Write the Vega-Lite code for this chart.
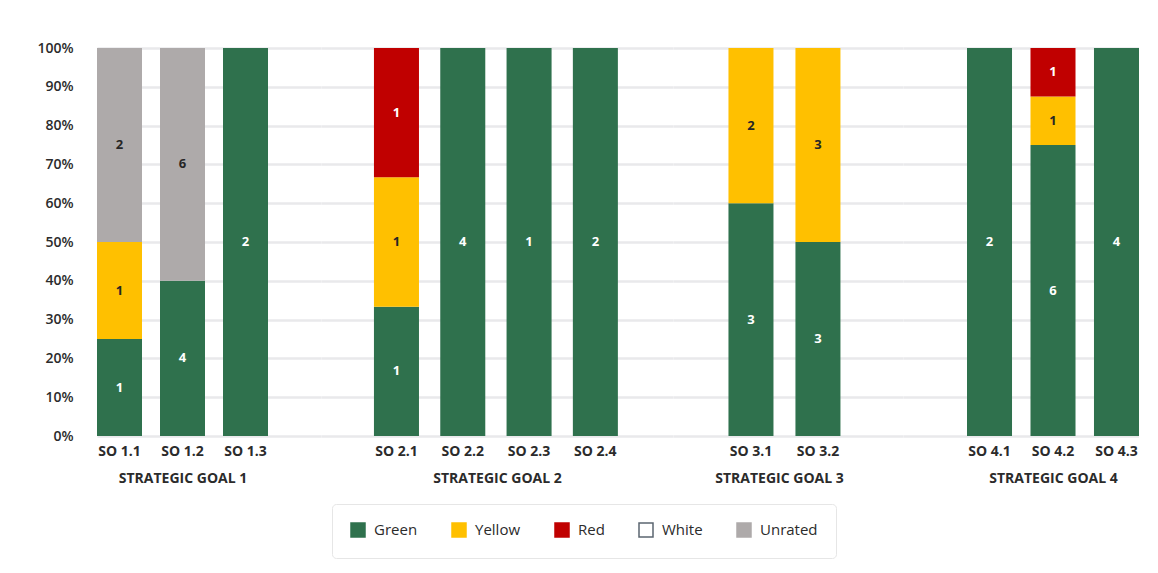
{
  "$schema": "https://vega.github.io/schema/vega-lite/v6.json",
  "background": "white",
  "padding": {"left": 36, "top": 41, "right": 0, "bottom": 0},
  "spacing": 0,
  "data": {"values": [
    {"goal": "STRATEGIC GOAL 1", "so": "SO 1.1", "status": "Green", "count": 1},
    {"goal": "STRATEGIC GOAL 1", "so": "SO 1.1", "status": "Yellow", "count": 1},
    {"goal": "STRATEGIC GOAL 1", "so": "SO 1.1", "status": "Unrated", "count": 2},
    {"goal": "STRATEGIC GOAL 1", "so": "SO 1.2", "status": "Green", "count": 4},
    {"goal": "STRATEGIC GOAL 1", "so": "SO 1.2", "status": "Unrated", "count": 6},
    {"goal": "STRATEGIC GOAL 1", "so": "SO 1.3", "status": "Green", "count": 2},
    {"goal": "STRATEGIC GOAL 2", "so": "SO 2.1", "status": "Green", "count": 1},
    {"goal": "STRATEGIC GOAL 2", "so": "SO 2.1", "status": "Yellow", "count": 1},
    {"goal": "STRATEGIC GOAL 2", "so": "SO 2.1", "status": "Red", "count": 1},
    {"goal": "STRATEGIC GOAL 2", "so": "SO 2.2", "status": "Green", "count": 4},
    {"goal": "STRATEGIC GOAL 2", "so": "SO 2.3", "status": "Green", "count": 1},
    {"goal": "STRATEGIC GOAL 2", "so": "SO 2.4", "status": "Green", "count": 2},
    {"goal": "STRATEGIC GOAL 3", "so": "SO 3.1", "status": "Green", "count": 3},
    {"goal": "STRATEGIC GOAL 3", "so": "SO 3.1", "status": "Yellow", "count": 2},
    {"goal": "STRATEGIC GOAL 3", "so": "SO 3.2", "status": "Green", "count": 3},
    {"goal": "STRATEGIC GOAL 3", "so": "SO 3.2", "status": "Yellow", "count": 3},
    {"goal": "STRATEGIC GOAL 4", "so": "SO 4.1", "status": "Green", "count": 2},
    {"goal": "STRATEGIC GOAL 4", "so": "SO 4.2", "status": "Green", "count": 6},
    {"goal": "STRATEGIC GOAL 4", "so": "SO 4.2", "status": "Yellow", "count": 1},
    {"goal": "STRATEGIC GOAL 4", "so": "SO 4.2", "status": "Red", "count": 1},
    {"goal": "STRATEGIC GOAL 4", "so": "SO 4.3", "status": "Green", "count": 4}
  ]},
  "transform": [
    {"calculate": "indexof(['Green','Yellow','Red','White','Unrated'], datum.status)", "as": "order"},
    {"stack": "count", "groupby": ["so"], "sort": [{"field": "order", "order": "ascending"}], "offset": "normalize", "as": ["y0", "y1"]},
    {"calculate": "(datum.y0 + datum.y1) / 2", "as": "ymid"}
  ],
  "hconcat": [
    {
      "width": 224, "height": 388,
      "transform": [{"filter": "datum.goal === 'STRATEGIC GOAL 1'"}],
      "encoding": {
        "x": {"field": "so", "type": "nominal", "scale": {"paddingInner": 0.2857, "paddingOuter": 0.4206, "align": 0}, "axis": {"title": "STRATEGIC GOAL 1", "titleX": 85.5}},
        "y": {"field": "y0", "type": "quantitative", "scale": {"domain": [0, 1]}, "axis": {"format": "%", "values": [0,0.1,0.2,0.3,0.4,0.5,0.6,0.7,0.8,0.9,1], "labelFontSize": 14, "labelFontWeight": 600, "labelColor": "#2b2b2b", "labelPadding": 24, "ticks": false, "domain": false, "title": null}}
      },
      "layer": [
        {"mark": {"type": "bar", "strokeWidth": 0},
         "encoding": {
           "y2": {"field": "y1"},
           "color": {"field": "status", "type": "nominal", "scale": {"domain": ["Green","Yellow","Red","White","Unrated"], "range": ["#2f714d","#ffc000","#c00000","#ffffff","#aeaaaa"]}, "legend": {"title": null}},
           "stroke": {"field": "status", "type": "nominal", "scale": {"domain": ["Green","Yellow","Red","White","Unrated"], "range": ["#2f714d","#ffc000","#c00000","#5b6570","#aeaaaa"]}, "legend": {"title": null}}
         }},
        {"mark": {"type": "text", "fontSize": 13, "fontWeight": "bold"},
         "encoding": {
           "y": {"field": "ymid", "type": "quantitative", "axis": {"format": "%", "values": [0,0.1,0.2,0.3,0.4,0.5,0.6,0.7,0.8,0.9,1], "labelFontSize": 14, "labelFontWeight": 600, "labelColor": "#2b2b2b", "labelPadding": 24, "ticks": false, "domain": false, "title": null}},
           "text": {"field": "count", "type": "quantitative"},
           "color": {"condition": {"test": "datum.status === 'Green' || datum.status === 'Red'", "value": "#ffffff"}, "value": "#262626"}
         }}
      ]
    },
    {
      "width": 352, "height": 388,
      "transform": [{"filter": "datum.goal === 'STRATEGIC GOAL 2'"}],
      "encoding": {
        "x": {"field": "so", "type": "nominal", "scale": {"paddingInner": 0.321, "paddingOuter": 0.815, "align": 0.49}, "axis": {"title": "STRATEGIC GOAL 2"}},
        "y": {"field": "y0", "type": "quantitative", "scale": {"domain": [0, 1]}, "axis": {"values": [0,0.1,0.2,0.3,0.4,0.5,0.6,0.7,0.8,0.9,1], "labels": false, "ticks": false, "domain": false, "title": null}}
      },
      "layer": [
        {"mark": {"type": "bar", "strokeWidth": 0},
         "encoding": {
           "y2": {"field": "y1"},
           "color": {"field": "status", "type": "nominal", "scale": {"domain": ["Green","Yellow","Red","White","Unrated"], "range": ["#2f714d","#ffc000","#c00000","#ffffff","#aeaaaa"]}, "legend": {"title": null}},
           "stroke": {"field": "status", "type": "nominal", "scale": {"domain": ["Green","Yellow","Red","White","Unrated"], "range": ["#2f714d","#ffc000","#c00000","#5b6570","#aeaaaa"]}, "legend": {"title": null}}
         }},
        {"mark": {"type": "text", "fontSize": 13, "fontWeight": "bold"},
         "encoding": {
           "y": {"field": "ymid", "type": "quantitative", "axis": {"values": [0,0.1,0.2,0.3,0.4,0.5,0.6,0.7,0.8,0.9,1], "labels": false, "ticks": false, "domain": false, "title": null}},
           "text": {"field": "count", "type": "quantitative"},
           "color": {"condition": {"test": "datum.status === 'Green' || datum.status === 'Red'", "value": "#ffffff"}, "value": "#262626"}
         }}
      ]
    },
    {
      "width": 230, "height": 388,
      "transform": [{"filter": "datum.goal === 'STRATEGIC GOAL 3'"}],
      "encoding": {
        "x": {"field": "so", "type": "nominal", "scale": {"paddingInner": 0.328, "paddingOuter": 0.881, "align": 0.47}, "axis": {"title": "STRATEGIC GOAL 3", "titleX": 106}},
        "y": {"field": "y0", "type": "quantitative", "scale": {"domain": [0, 1]}, "axis": {"values": [0,0.1,0.2,0.3,0.4,0.5,0.6,0.7,0.8,0.9,1], "labels": false, "ticks": false, "domain": false, "title": null}}
      },
      "layer": [
        {"mark": {"type": "bar", "strokeWidth": 0},
         "encoding": {
           "y2": {"field": "y1"},
           "color": {"field": "status", "type": "nominal", "scale": {"domain": ["Green","Yellow","Red","White","Unrated"], "range": ["#2f714d","#ffc000","#c00000","#ffffff","#aeaaaa"]}, "legend": {"title": null}},
           "stroke": {"field": "status", "type": "nominal", "scale": {"domain": ["Green","Yellow","Red","White","Unrated"], "range": ["#2f714d","#ffc000","#c00000","#5b6570","#aeaaaa"]}, "legend": {"title": null}}
         }},
        {"mark": {"type": "text", "fontSize": 13, "fontWeight": "bold"},
         "encoding": {
           "y": {"field": "ymid", "type": "quantitative", "axis": {"values": [0,0.1,0.2,0.3,0.4,0.5,0.6,0.7,0.8,0.9,1], "labels": false, "ticks": false, "domain": false, "title": null}},
           "text": {"field": "count", "type": "quantitative"},
           "color": {"condition": {"test": "datum.status === 'Green' || datum.status === 'Red'", "value": "#ffffff"}, "value": "#262626"}
         }}
      ]
    },
    {
      "width": 236, "height": 388,
      "transform": [{"filter": "datum.goal === 'STRATEGIC GOAL 4'"}],
      "encoding": {
        "x": {"field": "so", "type": "nominal", "scale": {"paddingInner": 0.291, "paddingOuter": 0.504, "align": 1}, "axis": {"title": "STRATEGIC GOAL 4", "titleX": 150}},
        "y": {"field": "y0", "type": "quantitative", "scale": {"domain": [0, 1]}, "axis": {"values": [0,0.1,0.2,0.3,0.4,0.5,0.6,0.7,0.8,0.9,1], "labels": false, "ticks": false, "domain": false, "title": null}}
      },
      "layer": [
        {"mark": {"type": "bar", "strokeWidth": 0},
         "encoding": {
           "y2": {"field": "y1"},
           "color": {"field": "status", "type": "nominal", "scale": {"domain": ["Green","Yellow","Red","White","Unrated"], "range": ["#2f714d","#ffc000","#c00000","#ffffff","#aeaaaa"]}, "legend": {"title": null}},
           "stroke": {"field": "status", "type": "nominal", "scale": {"domain": ["Green","Yellow","Red","White","Unrated"], "range": ["#2f714d","#ffc000","#c00000","#5b6570","#aeaaaa"]}, "legend": {"title": null}}
         }},
        {"mark": {"type": "text", "fontSize": 13, "fontWeight": "bold"},
         "encoding": {
           "y": {"field": "ymid", "type": "quantitative", "axis": {"values": [0,0.1,0.2,0.3,0.4,0.5,0.6,0.7,0.8,0.9,1], "labels": false, "ticks": false, "domain": false, "title": null}},
           "text": {"field": "count", "type": "quantitative"},
           "color": {"condition": {"test": "datum.status === 'Green' || datum.status === 'Red'", "value": "#ffffff"}, "value": "#262626"}
         }}
      ]
    }
  ],
  "config": {
    "font": "Open Sans",
    "view": {"stroke": null},
    "axis": {"gridColor": "#e9e9eb", "gridWidth": 2.5},
    "axisX": {"labelAngle": 0, "domain": false, "ticks": false, "labelFontSize": 14, "labelFontWeight": "bold", "labelColor": "#2b2b2b", "labelPadding": 8, "titleFontSize": 14, "titleFontWeight": "bold", "titleColor": "#2b2b2b", "titlePadding": 13, "grid": false},
    "legend": {"orient": "none", "legendX": 235, "legendY": 456, "direction": "horizontal", "symbolType": "square", "symbolSize": 196, "symbolStrokeWidth": 1.5, "labelFontSize": 15, "labelColor": "#2b2b2b", "labelFontWeight": 500, "labelOffset": 8, "columnPadding": 31, "strokeColor": "#e6e6e6", "padding": 18, "cornerRadius": 4}
  }
}
